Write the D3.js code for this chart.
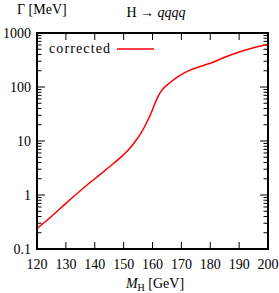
<!DOCTYPE html>
<html>
<head>
<meta charset="utf-8">
<script src="https://d3js.org/d3.v7.min.js"></script>
<style>
  body { margin: 0; background: #fff; }
  text { font-family: "Liberation Serif", "DejaVu Serif", serif; fill: #000; }
</style>
</head>
<body>
<svg id="chart" width="279" height="293"></svg>
<script>
// Higgs mass (GeV) and width (MeV)
const mass = [120, 125, 130, 135, 140, 145, 150, 152, 154, 156, 158, 160, 161, 162, 163, 164, 166, 168, 170, 173, 176, 180, 185, 190, 195, 200];
const gamma = [0.24, 0.40, 0.70, 1.2, 2.0, 3.3, 5.6, 7.2, 9.8, 14, 22, 38, 52, 68, 84, 97, 120, 145, 170, 205, 235, 275, 355, 445, 535, 620];
const xTicks = [120, 130, 140, 150, 160, 170, 180, 190, 200];
const yTicks = [0.1, 1, 10, 100, 1000];
const yTickLabels = ["0.1", "1", "10", "100", "1000"];

const svg = d3.select("#chart");
const mLeft = 37, mRight = 268, mTop = 33, mBottom = 249;
const fs = 14;

const x = d3.scaleLinear().domain([120, 200]).range([mLeft, mRight]);
const y = d3.scaleLog().domain([0.1, 1000]).range([mBottom, mTop]);

// minor ticks on log axis
const minor = [];
for (let d = 0.1; d < 999; d *= 10) {
  for (let k = 2; k <= 9; k++) minor.push(d * k);
}

const g = svg.append("g");

// x ticks, bottom and top
g.append("g").selectAll("line").data(xTicks.slice(1, -1)).join("line")
  .attr("x1", d => x(d)).attr("x2", d => x(d))
  .attr("y1", mBottom).attr("y2", mBottom - 7)
  .attr("stroke", "#000").attr("stroke-width", 1);
g.append("g").selectAll("line").data(xTicks.slice(1, -1)).join("line")
  .attr("x1", d => x(d)).attr("x2", d => x(d))
  .attr("y1", mTop).attr("y2", mTop + 7)
  .attr("stroke", "#000").attr("stroke-width", 1);

// y ticks left and right
[[mLeft, 1], [mRight, -1]].forEach(([x0, s]) => {
  g.append("g").selectAll("line").data(yTicks).join("line")
    .attr("x1", x0).attr("x2", x0 + s * 8)
    .attr("y1", d => y(d)).attr("y2", d => y(d))
    .attr("stroke", "#000").attr("stroke-width", 1);
  g.append("g").selectAll("line").data(minor).join("line")
    .attr("x1", x0).attr("x2", x0 + s * 4.5)
    .attr("y1", d => y(d)).attr("y2", d => y(d))
    .attr("stroke", "#000").attr("stroke-width", 1);
});

// tick labels
g.append("g").selectAll("text").data(xTicks).join("text")
  .attr("x", d => x(d)).attr("y", 269)
  .attr("text-anchor", "middle")
  .attr("font-size", fs)
  .text(d => d);
g.append("g").selectAll("text").data(yTicks).join("text")
  .attr("x", 31).attr("y", d => y(d))
  .attr("dy", "0.35em")
  .attr("text-anchor", "end")
  .attr("font-size", fs)
  .text((d, i) => yTickLabels[i]);

// curve
const line = d3.line()
  .x((d, i) => x(mass[i]))
  .y(d => y(d))
  .curve(d3.curveMonotoneX);
svg.append("path")
  .datum(gamma)
  .attr("d", line)
  .attr("fill", "none")
  .attr("stroke", "#ff0000")
  .attr("stroke-width", 1.5);

// frame
svg.append("rect")
  .attr("x", mLeft).attr("y", mTop)
  .attr("width", mRight - mLeft).attr("height", mBottom - mTop)
  .attr("fill", "none").attr("stroke", "#000").attr("stroke-width", 2);

// legend
svg.append("text").attr("x", 49).attr("y", 53).attr("font-size", fs)
  .attr("textLength", 61).text("corrected");
svg.append("line").attr("x1", 117).attr("x2", 154).attr("y1", 49).attr("y2", 49)
  .attr("stroke", "#ff0000").attr("stroke-width", 1.5);

// titles
svg.append("text").attr("x", 17).attr("y", 14).attr("font-size", fs).text("Γ [MeV]");
const t = svg.append("text").attr("x", 156).attr("y", 17).attr("font-size", fs).attr("text-anchor", "middle");
t.append("tspan").text("H → ");
t.append("tspan").attr("font-style", "italic").text("qqqq");

const xt = svg.append("text").attr("x", 155).attr("y", 288).attr("font-size", fs).attr("text-anchor", "middle");
xt.append("tspan").attr("font-style", "italic").text("M");
xt.append("tspan").attr("font-size", 10).attr("dy", 3).text("H");
xt.append("tspan").attr("dy", -3).text(" [GeV]");
</script>
</body>
</html>
